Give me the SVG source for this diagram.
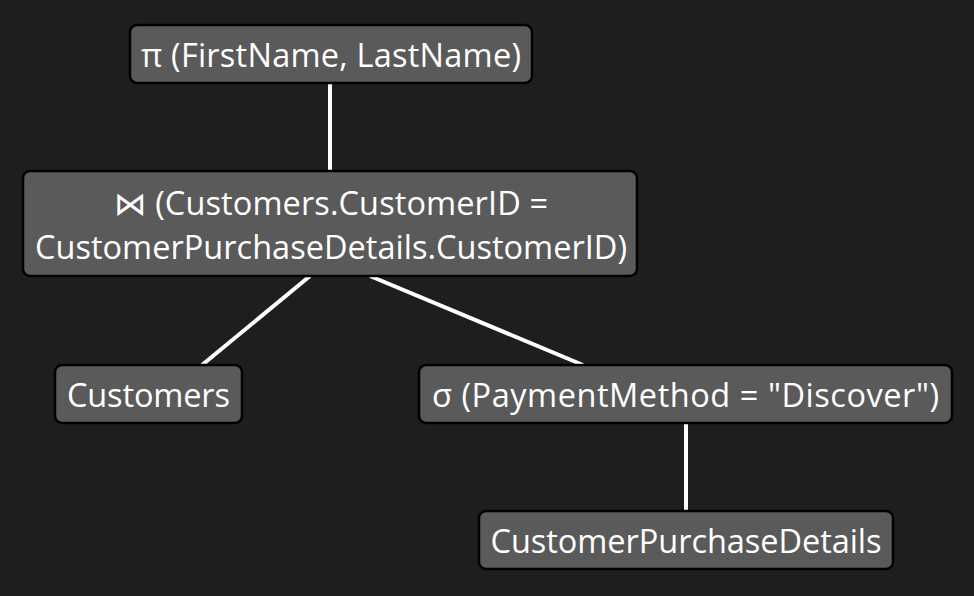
<svg xmlns="http://www.w3.org/2000/svg" width="974" height="596" viewBox="0 0 974 596">
<style>
.bg{fill:#1e1e1e}
.box{fill:#5a5a5a;stroke:#000;stroke-width:2.5}
.t{font-family:"Open Sans","DejaVu Sans",sans-serif;font-size:32.5px;fill:#fff;text-anchor:middle}
.e{stroke:#fff;stroke-width:4;fill:none}
</style>
<rect class="bg" width="974" height="596"/>
<g id="edges">
<line class="e" x1="330" y1="83" x2="330" y2="171"/>
<line class="e" x1="310" y1="276" x2="202" y2="365"/>
<line class="e" x1="370" y1="276" x2="583" y2="365"/>
<line class="e" x1="686" y1="423" x2="686" y2="511"/>
</g>
<g id="proj">
<rect class="box" x="130" y="25" width="402" height="58" rx="7"/>
<text class="t" x="331" y="67" textLength="380">π (FirstName, LastName)</text>
</g>
<g id="join">
<rect class="box" x="23" y="171" width="614" height="105" rx="7"/>
<text class="t" x="331" y="215" textLength="434">⋈ (Customers.CustomerID =</text>
<text class="t" x="331" y="259" textLength="592">CustomerPurchaseDetails.CustomerID)</text>
</g>
<g id="customers">
<rect class="box" x="55" y="365" width="187" height="58" rx="7"/>
<text class="t" x="148.5" y="407" textLength="163">Customers</text>
</g>
<g id="select">
<rect class="box" x="419" y="365" width="533" height="58" rx="7"/>
<text class="t" x="685.5" y="407" textLength="507">σ (PaymentMethod = "Discover")</text>
</g>
<g id="cpd">
<rect class="box" x="479" y="511" width="414" height="58" rx="7"/>
<text class="t" x="686" y="553" textLength="391">CustomerPurchaseDetails</text>
</g>
</svg>
